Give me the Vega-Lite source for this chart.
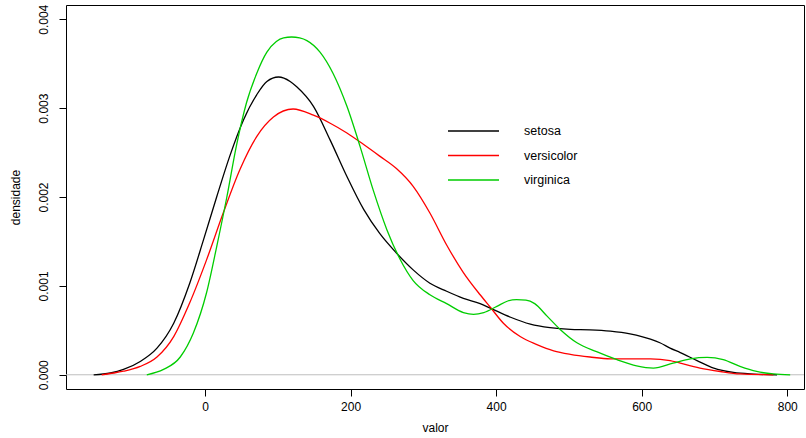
{
  "$schema": "https://vega.github.io/schema/vega-lite/v6.json",
  "width": 738,
  "height": 384,
  "autosize": {"type": "none"},
  "padding": {"left": 66, "top": 5, "right": 2, "bottom": 49},
  "background": "white",
  "config": {
    "view": {"stroke": "black", "strokeWidth": 1},
    "font": "Liberation Sans",
    "axis": {
      "grid": false,
      "domain": false,
      "tickColor": "black",
      "tickSize": 7,
      "labelColor": "black",
      "labelFontSize": 12,
      "titleFontSize": 12,
      "titleFontWeight": "normal",
      "titleColor": "black"
    }
  },
  "datasets": {
    "dens": [
      {"especie": "setosa", "valor": -153, "densidade": 0},
      {"especie": "setosa", "valor": -130, "densidade": 0.00002},
      {"especie": "setosa", "valor": -112, "densidade": 0.00006},
      {"especie": "setosa", "valor": -89, "densidade": 0.00015},
      {"especie": "setosa", "valor": -66, "densidade": 0.0003},
      {"especie": "setosa", "valor": -43, "densidade": 0.00058},
      {"especie": "setosa", "valor": -21, "densidade": 0.00103},
      {"especie": "setosa", "valor": -2, "densidade": 0.00152},
      {"especie": "setosa", "valor": 16, "densidade": 0.002},
      {"especie": "setosa", "valor": 34, "densidade": 0.00246},
      {"especie": "setosa", "valor": 53, "densidade": 0.00287},
      {"especie": "setosa", "valor": 71, "densidade": 0.00315},
      {"especie": "setosa", "valor": 85, "densidade": 0.0033},
      {"especie": "setosa", "valor": 101, "densidade": 0.00335},
      {"especie": "setosa", "valor": 117, "densidade": 0.0033},
      {"especie": "setosa", "valor": 126, "densidade": 0.00324},
      {"especie": "setosa", "valor": 149, "densidade": 0.00302},
      {"especie": "setosa", "valor": 172, "densidade": 0.00264},
      {"especie": "setosa", "valor": 195, "densidade": 0.00223},
      {"especie": "setosa", "valor": 218, "densidade": 0.00186},
      {"especie": "setosa", "valor": 240, "densidade": 0.00159},
      {"especie": "setosa", "valor": 263, "densidade": 0.00137},
      {"especie": "setosa", "valor": 286, "densidade": 0.00118},
      {"especie": "setosa", "valor": 309, "densidade": 0.00103},
      {"especie": "setosa", "valor": 332, "densidade": 0.00094},
      {"especie": "setosa", "valor": 355, "densidade": 0.00086},
      {"especie": "setosa", "valor": 378, "densidade": 0.0008},
      {"especie": "setosa", "valor": 392, "densidade": 0.00075},
      {"especie": "setosa", "valor": 419, "densidade": 0.00065},
      {"especie": "setosa", "valor": 447, "densidade": 0.00057},
      {"especie": "setosa", "valor": 474, "densidade": 0.00053},
      {"especie": "setosa", "valor": 502, "densidade": 0.00051},
      {"especie": "setosa", "valor": 529, "densidade": 0.000505},
      {"especie": "setosa", "valor": 557, "densidade": 0.00049},
      {"especie": "setosa", "valor": 584, "densidade": 0.00046},
      {"especie": "setosa", "valor": 600, "densidade": 0.00043},
      {"especie": "setosa", "valor": 612, "densidade": 0.0004},
      {"especie": "setosa", "valor": 625, "densidade": 0.00036},
      {"especie": "setosa", "valor": 639, "densidade": 0.0003},
      {"especie": "setosa", "valor": 653, "densidade": 0.00025},
      {"especie": "setosa", "valor": 676, "densidade": 0.00016},
      {"especie": "setosa", "valor": 699, "densidade": 0.000075},
      {"especie": "setosa", "valor": 726, "densidade": 0.000026},
      {"especie": "setosa", "valor": 754, "densidade": 0.000008},
      {"especie": "setosa", "valor": 786, "densidade": 0},
      {"especie": "versicolor", "valor": -142, "densidade": 0},
      {"especie": "versicolor", "valor": -125, "densidade": 0.00002},
      {"especie": "versicolor", "valor": -112, "densidade": 0.00004},
      {"especie": "versicolor", "valor": -89, "densidade": 0.000094},
      {"especie": "versicolor", "valor": -66, "densidade": 0.0002},
      {"especie": "versicolor", "valor": -43, "densidade": 0.00043},
      {"especie": "versicolor", "valor": -21, "densidade": 0.00081},
      {"especie": "versicolor", "valor": 2, "densidade": 0.00129},
      {"especie": "versicolor", "valor": 25, "densidade": 0.00182},
      {"especie": "versicolor", "valor": 48, "densidade": 0.00231},
      {"especie": "versicolor", "valor": 71, "densidade": 0.00268},
      {"especie": "versicolor", "valor": 94, "densidade": 0.0029},
      {"especie": "versicolor", "valor": 121, "densidade": 0.00299},
      {"especie": "versicolor", "valor": 149, "densidade": 0.00292},
      {"especie": "versicolor", "valor": 172, "densidade": 0.00283},
      {"especie": "versicolor", "valor": 195, "densidade": 0.00272},
      {"especie": "versicolor", "valor": 218, "densidade": 0.00259},
      {"especie": "versicolor", "valor": 240, "densidade": 0.00246},
      {"especie": "versicolor", "valor": 263, "densidade": 0.00232},
      {"especie": "versicolor", "valor": 286, "densidade": 0.00212},
      {"especie": "versicolor", "valor": 309, "densidade": 0.00182},
      {"especie": "versicolor", "valor": 332, "densidade": 0.00146},
      {"especie": "versicolor", "valor": 355, "densidade": 0.00115},
      {"especie": "versicolor", "valor": 378, "densidade": 0.0009},
      {"especie": "versicolor", "valor": 392, "densidade": 0.00076},
      {"especie": "versicolor", "valor": 410, "densidade": 0.00058},
      {"especie": "versicolor", "valor": 433, "densidade": 0.00043},
      {"especie": "versicolor", "valor": 456, "densidade": 0.00034},
      {"especie": "versicolor", "valor": 479, "densidade": 0.00027},
      {"especie": "versicolor", "valor": 502, "densidade": 0.00023},
      {"especie": "versicolor", "valor": 529, "densidade": 0.0002},
      {"especie": "versicolor", "valor": 557, "densidade": 0.00018},
      {"especie": "versicolor", "valor": 584, "densidade": 0.00018},
      {"especie": "versicolor", "valor": 612, "densidade": 0.00018},
      {"especie": "versicolor", "valor": 639, "densidade": 0.00016},
      {"especie": "versicolor", "valor": 653, "densidade": 0.00013},
      {"especie": "versicolor", "valor": 680, "densidade": 0.000075},
      {"especie": "versicolor", "valor": 708, "densidade": 0.000037},
      {"especie": "versicolor", "valor": 735, "densidade": 0.00001},
      {"especie": "versicolor", "valor": 781, "densidade": 0},
      {"especie": "virginica", "valor": -80, "densidade": 0},
      {"especie": "virginica", "valor": -57, "densidade": 0.00006},
      {"especie": "virginica", "valor": -34, "densidade": 0.0002},
      {"especie": "virginica", "valor": -16, "densidade": 0.00047},
      {"especie": "virginica", "valor": 2, "densidade": 0.00092},
      {"especie": "virginica", "valor": 16, "densidade": 0.00144},
      {"especie": "virginica", "valor": 30, "densidade": 0.002},
      {"especie": "virginica", "valor": 43, "densidade": 0.00257},
      {"especie": "virginica", "valor": 57, "densidade": 0.00306},
      {"especie": "virginica", "valor": 71, "densidade": 0.00339},
      {"especie": "virginica", "valor": 85, "densidade": 0.00363},
      {"especie": "virginica", "valor": 98, "densidade": 0.00375},
      {"especie": "virginica", "valor": 108, "densidade": 0.00379},
      {"especie": "virginica", "valor": 119, "densidade": 0.0038},
      {"especie": "virginica", "valor": 130, "densidade": 0.00379},
      {"especie": "virginica", "valor": 140, "densidade": 0.00376},
      {"especie": "virginica", "valor": 158, "densidade": 0.00363},
      {"especie": "virginica", "valor": 176, "densidade": 0.00339},
      {"especie": "virginica", "valor": 195, "densidade": 0.00302},
      {"especie": "virginica", "valor": 213, "densidade": 0.00257},
      {"especie": "virginica", "valor": 231, "densidade": 0.00208},
      {"especie": "virginica", "valor": 250, "densidade": 0.00163},
      {"especie": "virginica", "valor": 268, "densidade": 0.0013},
      {"especie": "virginica", "valor": 286, "densidade": 0.00106},
      {"especie": "virginica", "valor": 309, "densidade": 0.0009},
      {"especie": "virginica", "valor": 332, "densidade": 0.0008},
      {"especie": "virginica", "valor": 355, "densidade": 0.0007},
      {"especie": "virginica", "valor": 369, "densidade": 0.00068},
      {"especie": "virginica", "valor": 383, "densidade": 0.0007},
      {"especie": "virginica", "valor": 401, "densidade": 0.00077},
      {"especie": "virginica", "valor": 416, "densidade": 0.00083},
      {"especie": "virginica", "valor": 428, "densidade": 0.000845},
      {"especie": "virginica", "valor": 441, "densidade": 0.00084},
      {"especie": "virginica", "valor": 453, "densidade": 0.0008},
      {"especie": "virginica", "valor": 470, "densidade": 0.00066},
      {"especie": "virginica", "valor": 488, "densidade": 0.00051},
      {"especie": "virginica", "valor": 511, "densidade": 0.00036},
      {"especie": "virginica", "valor": 538, "densidade": 0.00026},
      {"especie": "virginica", "valor": 566, "densidade": 0.00017},
      {"especie": "virginica", "valor": 593, "densidade": 0.0001},
      {"especie": "virginica", "valor": 616, "densidade": 0.000075},
      {"especie": "virginica", "valor": 643, "densidade": 0.00013},
      {"especie": "virginica", "valor": 667, "densidade": 0.00018},
      {"especie": "virginica", "valor": 690, "densidade": 0.000195},
      {"especie": "virginica", "valor": 712, "densidade": 0.00017},
      {"especie": "virginica", "valor": 735, "densidade": 0.000094},
      {"especie": "virginica", "valor": 758, "densidade": 0.000037},
      {"especie": "virginica", "valor": 781, "densidade": 0.00001},
      {"especie": "virginica", "valor": 804, "densidade": 0}
    ]
  },
  "layer": [
    {
      "data": {"values": [{}]},
      "mark": {"type": "rule", "color": "#BEBEBE", "strokeWidth": 1},
      "encoding": {"y": {"datum": 0, "type": "quantitative"}}
    },
    {
      "data": {"name": "dens"},
      "mark": {"type": "line", "interpolate": "monotone", "strokeWidth": 1.3},
      "encoding": {
        "x": {
          "field": "valor",
          "type": "quantitative",
          "scale": {"domain": [-191, 823], "nice": false, "zero": false},
          "axis": {"title": "valor", "values": [0, 200, 400, 600, 800], "labelPadding": 5, "titlePadding": 10}
        },
        "y": {
          "field": "densidade",
          "type": "quantitative",
          "scale": {"domain": [-0.00016, 0.00416], "nice": false, "zero": false},
          "axis": {
            "title": "densidade",
            "values": [0, 0.001, 0.002, 0.003, 0.004],
            "format": ".3f",
            "labelAngle": -90,
            "labelAlign": "center",
            "labelBaseline": "bottom",
            "labelPadding": 9,
            "titlePadding": 15
          }
        },
        "color": {
          "field": "especie",
          "type": "nominal",
          "scale": {"domain": ["setosa", "versicolor", "virginica"], "range": ["#000000", "#FF0000", "#00CD00"]},
          "legend": {
            "title": null,
            "orient": "none",
            "legendX": 400.5,
            "legendY": 119,
            "padding": 0,
            "symbolType": "M-4.25,0H4.25",
            "symbolSize": 144,
            "symbolStrokeWidth": 1.3,
            "labelOffset": 43.5,
            "labelFontSize": 12.5,
            "labelColor": "black",
            "rowPadding": 10.5
          }
        }
      }
    }
  ]
}
